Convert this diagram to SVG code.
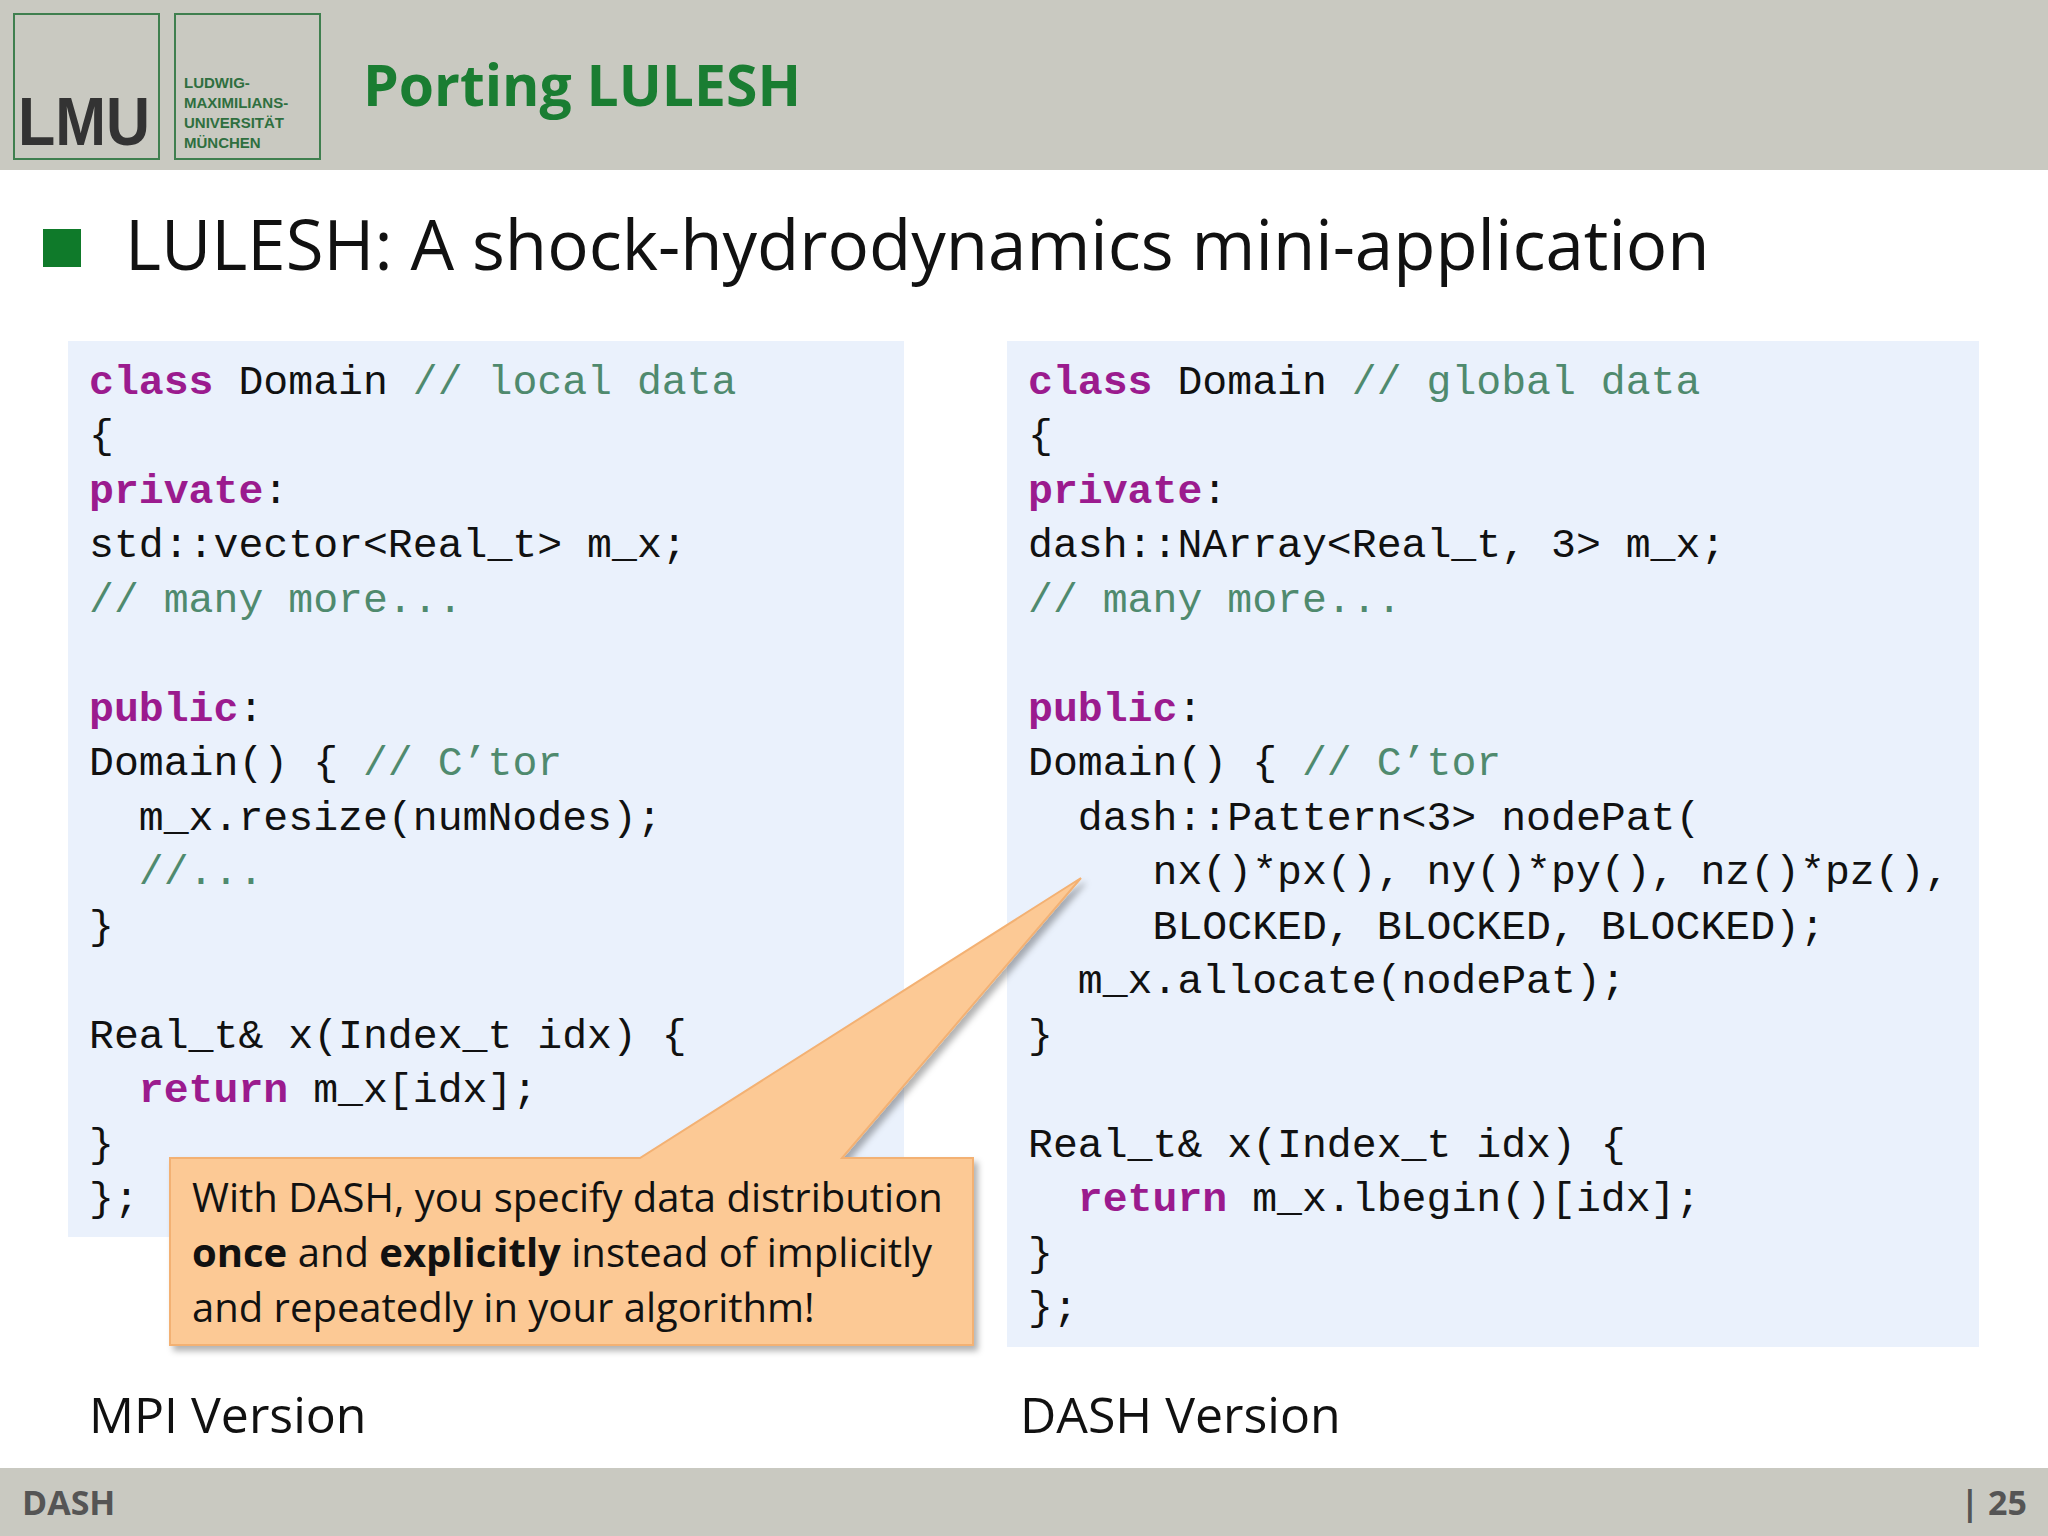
<svg xmlns="http://www.w3.org/2000/svg" width="2048" height="1536" viewBox="0 0 2048 1536">
<style>
.code{font-family:"Liberation Mono","DejaVu Sans Mono",monospace;font-size:41.5px;fill:#111;white-space:pre}
.kw{fill:#9b1b8e;font-weight:bold}
.cm{fill:#4f8a6e}
.sans{font-family:"Open Sans","Liberation Sans",sans-serif}
</style>
<defs><filter id="sh" x="-5%" y="-5%" width="115%" height="120%"><feDropShadow dx="4" dy="5" stdDeviation="3" flood-color="#000" flood-opacity="0.3"/></filter></defs>
<rect width="2048" height="1536" fill="#fff"/>
<g id="header">
<rect width="2048" height="170" fill="#c9c9c1"/>
<rect x="14" y="14" width="145" height="145" fill="none" stroke="#3f7f4f" stroke-width="2"/>
<text x="18" y="145" font-family="Liberation Sans,sans-serif" font-weight="bold" font-size="68" fill="#333" textLength="132" lengthAdjust="spacingAndGlyphs">LMU</text>
<rect x="175" y="14" width="145" height="145" fill="none" stroke="#3f7f4f" stroke-width="2"/>
<g font-family="Liberation Sans,sans-serif" font-weight="bold" font-size="15" fill="#2f6f3f">
<text x="184" y="88">LUDWIG-</text><text x="184" y="108">MAXIMILIANS-</text><text x="184" y="128">UNIVERSITÄT</text><text x="184" y="148">MÜNCHEN</text></g>
<text x="363" y="106" class="sans" font-weight="bold" font-size="57" fill="#1a7d32">Porting LULESH</text>
</g>
<g id="bullet">
<rect x="43" y="229" width="38" height="38" fill="#0f7a2a"/>
<text x="125" y="270" class="sans" font-size="69" fill="#111">LULESH: A shock-hydrodynamics mini-application</text>
</g>
<g id="left">
<rect x="68" y="341" width="836" height="896" fill="#eaf1fc"/>
<text class="code" xml:space="preserve">
<tspan x="89" y="394"><tspan class="kw">class</tspan> Domain <tspan class="cm">// local data</tspan></tspan>
<tspan x="89" y="448">{</tspan>
<tspan x="89" y="503"><tspan class="kw">private</tspan>:</tspan>
<tspan x="89" y="557">std::vector&lt;Real_t&gt; m_x;</tspan>
<tspan x="89" y="612" class="cm">// many more...</tspan>
<tspan x="89" y="721"><tspan class="kw">public</tspan>:</tspan>
<tspan x="89" y="775">Domain() { <tspan class="cm">// C’tor</tspan></tspan>
<tspan x="89" y="830">  m_x.resize(numNodes);</tspan>
<tspan x="89" y="884" class="cm">  //...</tspan>
<tspan x="89" y="939">}</tspan>
<tspan x="89" y="1048">Real_t&amp; x(Index_t idx) {</tspan>
<tspan x="89" y="1102">  <tspan class="kw">return</tspan> m_x[idx];</tspan>
<tspan x="89" y="1157">}</tspan>
<tspan x="89" y="1211">};</tspan>
</text>
</g>
<g id="right">
<rect x="1007" y="341" width="972" height="1006" fill="#eaf1fc"/>
<text class="code" xml:space="preserve">
<tspan x="1028" y="394"><tspan class="kw">class</tspan> Domain <tspan class="cm">// global data</tspan></tspan>
<tspan x="1028" y="448">{</tspan>
<tspan x="1028" y="503"><tspan class="kw">private</tspan>:</tspan>
<tspan x="1028" y="557">dash::NArray&lt;Real_t, 3&gt; m_x;</tspan>
<tspan x="1028" y="612" class="cm">// many more...</tspan>
<tspan x="1028" y="721"><tspan class="kw">public</tspan>:</tspan>
<tspan x="1028" y="775">Domain() { <tspan class="cm">// C’tor</tspan></tspan>
<tspan x="1028" y="830">  dash::Pattern&lt;3&gt; nodePat(</tspan>
<tspan x="1028" y="884">     nx()*px(), ny()*py(), nz()*pz(),</tspan>
<tspan x="1028" y="939">     BLOCKED, BLOCKED, BLOCKED);</tspan>
<tspan x="1028" y="993">  m_x.allocate(nodePat);</tspan>
<tspan x="1028" y="1048">}</tspan>
<tspan x="1028" y="1157">Real_t&amp; x(Index_t idx) {</tspan>
<tspan x="1028" y="1211">  <tspan class="kw">return</tspan> m_x.lbegin()[idx];</tspan>
<tspan x="1028" y="1266">}</tspan>
<tspan x="1028" y="1320">};</tspan>
</text>
</g>
<g id="callout">
<path d="M170 1158 H640 L1081 878 L842 1158 H973 V1345 H170 Z" fill="#fcc995" stroke="#f3b173" stroke-width="2" filter="url(#sh)"/>
<g class="sans" font-size="40" fill="#111">
<text x="192" y="1212">With DASH, you specify data distribution</text>
<text x="192" y="1267"><tspan font-weight="bold">once</tspan> and <tspan font-weight="bold">explicitly</tspan> instead of implicitly</text>
<text x="192" y="1322">and repeatedly in your algorithm!</text>
</g>
</g>
<g id="labels" class="sans" font-size="50" fill="#111">
<text x="89" y="1433">MPI Version</text>
<text x="1020" y="1433">DASH Version</text>
</g>
<g id="footer">
<rect y="1468" width="2048" height="68" fill="#c9c9c1"/>
<text x="22" y="1515" class="sans" font-weight="bold" font-size="34" fill="#555">DASH</text>
<text x="2027" y="1515" text-anchor="end" class="sans" font-weight="bold" font-size="34" fill="#555">| 25</text>
</g>
</svg>
